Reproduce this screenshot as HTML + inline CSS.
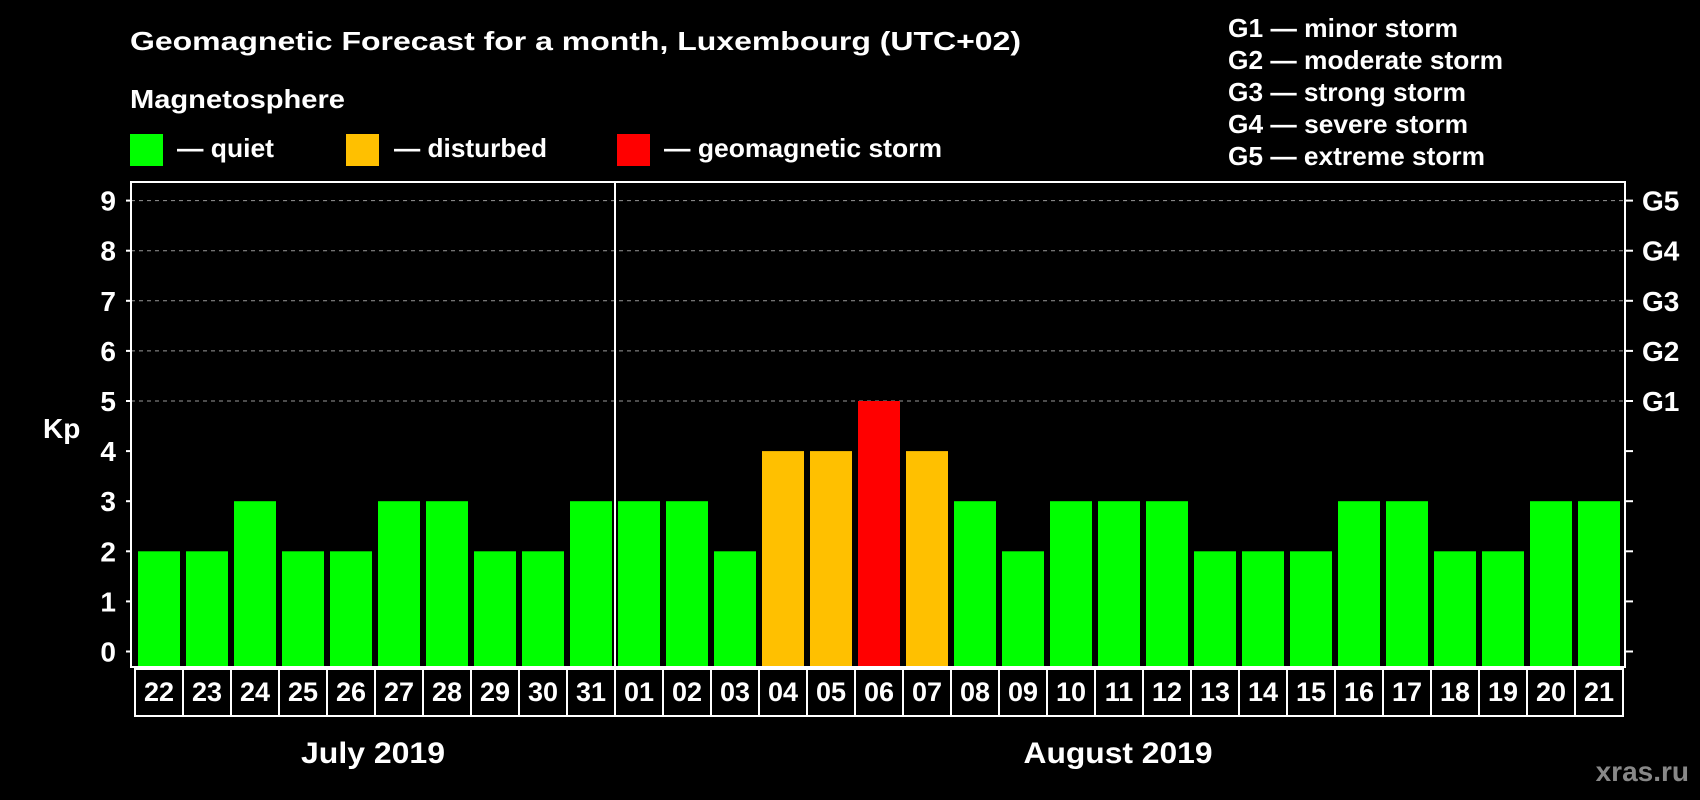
<!DOCTYPE html>
<html><head><meta charset="utf-8"><style>
body{margin:0;background:#000;width:1700px;height:800px;overflow:hidden}
svg{display:block;font-family:"Liberation Sans",Arial,sans-serif;font-weight:bold}
</style></head><body>
<svg id="c" width="1700" height="800" viewBox="0 0 1700 800">
<rect width="1700" height="800" fill="#000"/>
<text x="130" y="50" fill="#fff" font-size="26" textLength="891" lengthAdjust="spacingAndGlyphs">Geomagnetic Forecast for a month, Luxembourg (UTC+02)</text>
<text x="130" y="108" fill="#fff" font-size="26" textLength="215" lengthAdjust="spacingAndGlyphs">Magnetosphere</text>
<rect x="130" y="134" width="33" height="32" fill="#00ff00"/>
<text x="177" y="157" fill="#fff" font-size="26" textLength="97" lengthAdjust="spacingAndGlyphs">— quiet</text>
<rect x="346" y="134" width="33" height="32" fill="#ffc000"/>
<text x="394" y="157" fill="#fff" font-size="26" textLength="153" lengthAdjust="spacingAndGlyphs">— disturbed</text>
<rect x="617" y="134" width="33" height="32" fill="#ff0000"/>
<text x="664" y="157" fill="#fff" font-size="26" textLength="278" lengthAdjust="spacingAndGlyphs">— geomagnetic storm</text>
<g fill="#fff" font-size="26">
<text x="1228" y="37" textLength="230" lengthAdjust="spacingAndGlyphs">G1 — minor storm</text>
<text x="1228" y="69" textLength="275" lengthAdjust="spacingAndGlyphs">G2 — moderate storm</text>
<text x="1228" y="101" textLength="238" lengthAdjust="spacingAndGlyphs">G3 — strong storm</text>
<text x="1228" y="133" textLength="240" lengthAdjust="spacingAndGlyphs">G4 — severe storm</text>
<text x="1228" y="165" textLength="257" lengthAdjust="spacingAndGlyphs">G5 — extreme storm</text>
</g>
<text x="43" y="438" fill="#fff" font-size="28">Kp</text>
<g id="grid"></g>
<g id="bars"></g>
<g id="axes"></g>
<text x="373" y="763" fill="#fff" font-size="30" text-anchor="middle" textLength="144" lengthAdjust="spacingAndGlyphs">July 2019</text>
<text x="1118" y="763" fill="#fff" font-size="30" text-anchor="middle" textLength="189" lengthAdjust="spacingAndGlyphs">August 2019</text>
<text x="1689" y="781" fill="#888" font-size="28" text-anchor="end">xras.ru</text>
</svg>
<script>
const days=["22","23","24","25","26","27","28","29","30","31","01","02","03","04","05","06","07","08","09","10","11","12","13","14","15","16","17","18","19","20","21"];
const kp=[2,2,3,2,2,3,3,2,2,3,3,3,2,4,4,5,4,3,2,3,3,3,2,2,2,3,3,2,2,3,3];
const yTicks=[0,1,2,3,4,5,6,7,8,9];
const gLabels=["","","","","","G1","G2","G3","G4","G5"];
const NS="http://www.w3.org/2000/svg";
const L=131,R=1625,T=182,B=667;
const y=v=>651.5-v*50.1;
const x=i=>138+i*48;
function mk(t,a,p){const e=document.createElementNS(NS,t);for(const k in a)e.setAttribute(k,a[k]);p.appendChild(e);return e;}
const grid=document.getElementById('grid'),bars=document.getElementById('bars'),axes=document.getElementById('axes');
yTicks.forEach((v,i)=>{
  if(v>=5){const g=mk('line',{x1:L,x2:R,y1:y(v),y2:y(v),stroke:'#999','stroke-dasharray':'4,4','stroke-width':1},grid);
  
  }
  const t1=mk('line',{x1:L-5,x2:L,y1:y(v),y2:y(v),stroke:'#fff','stroke-width':2},axes);
  
  
  const t2=mk('line',{x1:R,x2:R+8,y1:y(v),y2:y(v),stroke:'#fff','stroke-width':2},axes);
  
  
  const lb=mk('text',{x:116,y:y(v)+10,fill:'#fff','font-size':28,'text-anchor':'end'},axes);
  lb.textContent=v;
  
  
  if(gLabels[i]){const gl=mk('text',{x:1642,y:y(v)+10,fill:'#fff','font-size':28},axes);
  gl.textContent=gLabels[i];
  
  }
});
kp.forEach((v,i)=>{
  const c=v>=5?'#ff0000':(v>=4?'#ffc000':'#00ff00');
  const b=mk('rect',{x:x(i),y:y(v),width:42,height:B-y(v),fill:c},bars);
  
  
});
const fr=mk('rect',{x:L,y:T,width:R-L,height:B-T,fill:'none',stroke:'#fff','stroke-width':2},axes);


const sep=mk('line',{x1:x(10)-3,x2:x(10)-3,y1:T,y2:B,stroke:'#fff','stroke-width':2},axes);


days.forEach((d,i)=>{
  const bx=mk('rect',{x:x(i)-3,y:669,width:48,height:47,fill:'none',stroke:'#fff','stroke-width':2},axes);
  
  
  const t=mk('text',{x:x(i)+21,y:701,fill:'#fff','font-size':27,'text-anchor':'middle'},axes);
  t.textContent=d;
  
  
});
</script>
</body></html>
